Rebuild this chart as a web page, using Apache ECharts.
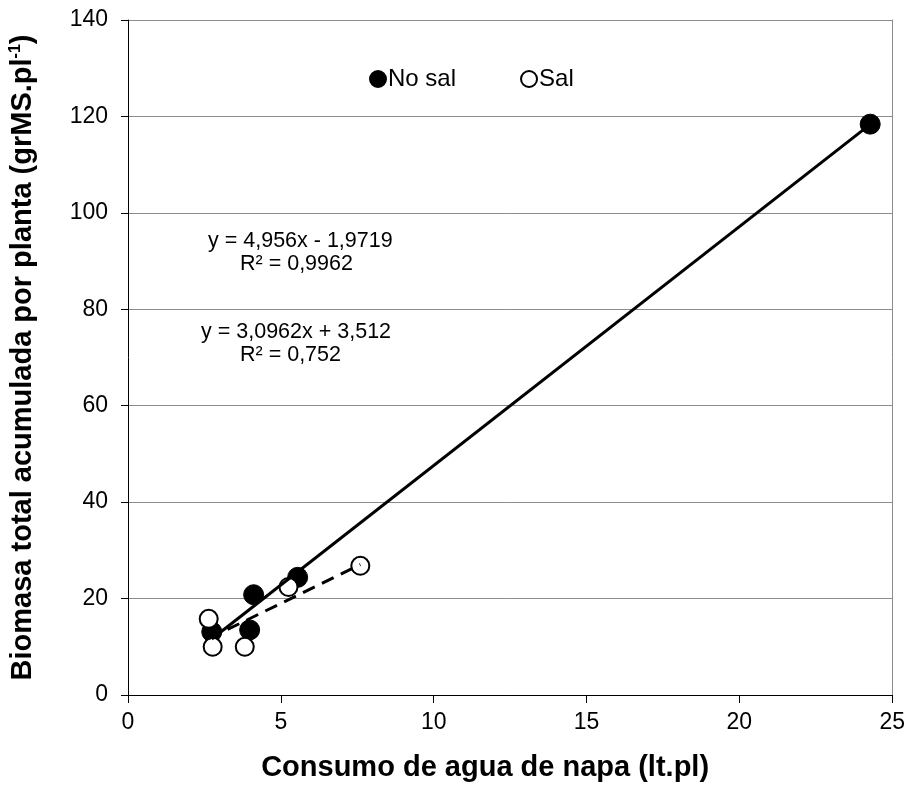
<!DOCTYPE html>
<html>
<head>
<meta charset="utf-8">
<script src="https://cdn.jsdelivr.net/npm/echarts@6/dist/echarts.min.js"></script>
<style>
  html, body { margin: 0; padding: 0; background: #fff; }
  #chart { width: 908px; height: 793px; }
</style>
</head>
<body>
<div id="chart"></div>
<script>
// Water use (lt per plant) vs. accumulated biomass (g DM per plant)
const noSalX = [24.28, 5.55, 4.11, 3.98, 2.74];
const noSalY = [118.4, 24.4, 20.8, 13.5, 13.1];
const salX = [7.6, 5.25, 2.64, 2.77, 3.82];
const salY = [26.8, 22.4, 15.8, 10.0, 10.0];

// Linear fits
const noSalFit = { slope: 4.956, intercept: -1.9719, r2: '0,9962', label: 'y = 4,956x - 1,9719' };
const salFit = { slope: 3.0962, intercept: 3.512, r2: '0,752', label: 'y = 3,0962x + 3,512' };

const yTicks = [0, 20, 40, 60, 80, 100, 120, 140];
const xTicks = [0, 5, 10, 15, 20, 25];

function pairs(xs, ys) { return xs.map((x, i) => [x, ys[i]]); }
function fitLine(xs, fit) {
  const lo = Math.min(...xs), hi = Math.max(...xs);
  return [[lo, fit.slope * lo + fit.intercept], [hi, fit.slope * hi + fit.intercept]];
}

const FONT = 'Liberation Sans, Arial, sans-serif';
const chart = echarts.init(document.getElementById('chart'), null, { renderer: 'canvas' });

function eqText(x, y, text) {
  return {
    type: 'text', x: x, y: y, z: 10,
    style: { text: text, font: '21.5px ' + FONT, fill: '#000', verticalAlign: 'middle' }
  };
}

chart.setOption({
  animation: false,
  backgroundColor: '#fff',
  textStyle: { fontFamily: FONT, color: '#000' },
  grid: { left: 127, right: 15, top: 20, bottom: 98 },
  legend: {
    data: ['No sal', 'Sal'],
    left: 364, top: 62,
    itemWidth: 16, itemHeight: 16, itemGap: 64,
    icon: 'circle',
    textStyle: { fontFamily: FONT, fontSize: 24, color: '#000', padding: [0, 0, 0, -3] }
  },
  xAxis: {
    type: 'value', min: xTicks[0], max: xTicks[xTicks.length - 1], interval: 5,
    name: 'Consumo de agua de napa (lt.pl)',
    nameLocation: 'middle', nameGap: 58,
    nameTextStyle: { fontFamily: FONT, fontSize: 29, fontWeight: 'bold', color: '#000', padding: [0, 50, 0, 0] },
    axisLine: { lineStyle: { color: '#000', width: 1 } },
    axisTick: { show: true, length: 8, lineStyle: { color: '#000' } },
    axisLabel: { fontFamily: FONT, fontSize: 23, color: '#000', margin: 16 },
    splitLine: { show: false }
  },
  yAxis: [{
    type: 'value', min: yTicks[0], max: yTicks[yTicks.length - 1], interval: 20,
    name: '{t|Biomasa total acumulada por planta (grMS.pl}{s|-1}{t|)}',
    nameLocation: 'middle', nameGap: 90,
    nameTextStyle: {
      rich: {
        t: { fontFamily: FONT, fontSize: 29, fontWeight: 'bold', color: '#000' },
        s: { fontFamily: FONT, fontSize: 16, fontWeight: 'bold', color: '#000', verticalAlign: 'top', padding: [0, 0, 14, 0] }
      }
    },
    axisLine: { show: true, lineStyle: { color: '#000', width: 1 } },
    axisTick: { show: true, length: 7, lineStyle: { color: '#000' } },
    axisLabel: { fontFamily: FONT, fontSize: 23, color: '#000', margin: 20 },
    splitLine: { show: true, lineStyle: { color: '#8c8c8c', width: 1 } }
  }, {
    type: 'value', min: yTicks[0], max: yTicks[yTicks.length - 1], interval: 20,
    position: 'right',
    axisLine: { show: true, lineStyle: { color: '#8c8c8c', width: 1 } },
    axisTick: { show: false }, axisLabel: { show: false }, splitLine: { show: false }
  }],
  series: [
    {
      name: 'No sal', type: 'scatter', data: pairs(noSalX, noSalY),
      symbolSize: 20,
      itemStyle: { color: '#000', borderColor: '#000', borderWidth: 1, opacity: 1 }, z: 2
    },
    {
      name: 'Sal', type: 'scatter', data: pairs(salX, salY),
      symbolSize: 18,
      itemStyle: { color: '#fff', borderColor: '#000', borderWidth: 2, opacity: 1 }, z: 3
    },
    {
      name: 'No sal fit', type: 'line', data: fitLine(noSalX, noSalFit),
      symbol: 'none', lineStyle: { color: '#000', width: 3 }, z: 4, silent: true
    },
    {
      name: 'Sal fit', type: 'line', data: fitLine(salX, salFit),
      symbol: 'none', lineStyle: { color: '#000', width: 3, type: [13, 8] }, z: 4, silent: true
    }
  ],
  graphic: [
    eqText(208, 241, noSalFit.label),
    eqText(240, 264, 'R² = ' + noSalFit.r2),
    eqText(201, 332, salFit.label),
    eqText(240, 355, 'R² = ' + salFit.r2)
  ]
});
</script>
</body>
</html>
